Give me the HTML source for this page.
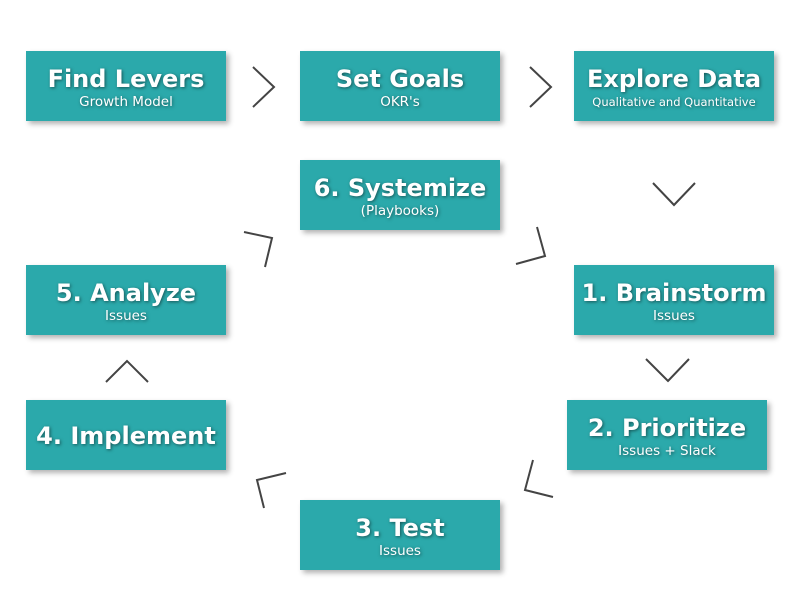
<!DOCTYPE html>
<html><head><style>
body{margin:0;width:800px;height:600px;background:#fff;position:relative;overflow:hidden;font-family:"DejaVu Sans",Verdana,sans-serif}
.b{position:absolute;width:200px;height:70px;background:#2ba9ab;box-shadow:3px 3px 5px rgba(0,0,0,0.3);color:#fff;text-align:center;text-shadow:1px 1px 3px rgba(0,0,0,0.5)}
.t{font-weight:bold;font-size:24px;margin-top:14px;line-height:28px;white-space:nowrap}
.s{font-size:13.5px;line-height:18px;white-space:nowrap}
svg{position:absolute;left:0;top:0}
</style></head><body>
<div class="b" style="left:26px;top:51px"><div class="t">Find Levers</div><div class="s">Growth Model</div></div>
<div class="b" style="left:300px;top:51px"><div class="t">Set Goals</div><div class="s">OKR's</div></div>
<div class="b" style="left:574px;top:51px"><div class="t">Explore Data</div><div class="s" style="font-size:11.5px">Qualitative and Quantitative</div></div>
<div class="b" style="left:300px;top:160px"><div class="t">6. Systemize</div><div class="s">(Playbooks)</div></div>
<div class="b" style="left:574px;top:265px"><div class="t">1. Brainstorm</div><div class="s">Issues</div></div>
<div class="b" style="left:567px;top:400px"><div class="t">2. Prioritize</div><div class="s">Issues + Slack</div></div>
<div class="b" style="left:300px;top:500px"><div class="t">3. Test</div><div class="s">Issues</div></div>
<div class="b" style="left:26px;top:400px"><div class="t" style="margin-top:22px">4. Implement</div></div>
<div class="b" style="left:26px;top:265px"><div class="t">5. Analyze</div><div class="s">Issues</div></div>
<svg width="800" height="600" fill="none" stroke="#444" stroke-width="2">
<polyline points="253,67 274,87 253,107"/>
<polyline points="530,67 551,87 530,107"/>
<polyline points="653,183 674,205 695,183"/>
<polyline points="646,359 668,381 689,359"/>
<polyline points="533,460 525,490 553,497"/>
<polyline points="286,473 257,480 264,508"/>
<polyline points="106,382 127,361 148,382"/>
<polyline points="244,232 272,238 265,267"/>
<polyline points="537,227 545,256 516,264"/>
</svg>
</body></html>
